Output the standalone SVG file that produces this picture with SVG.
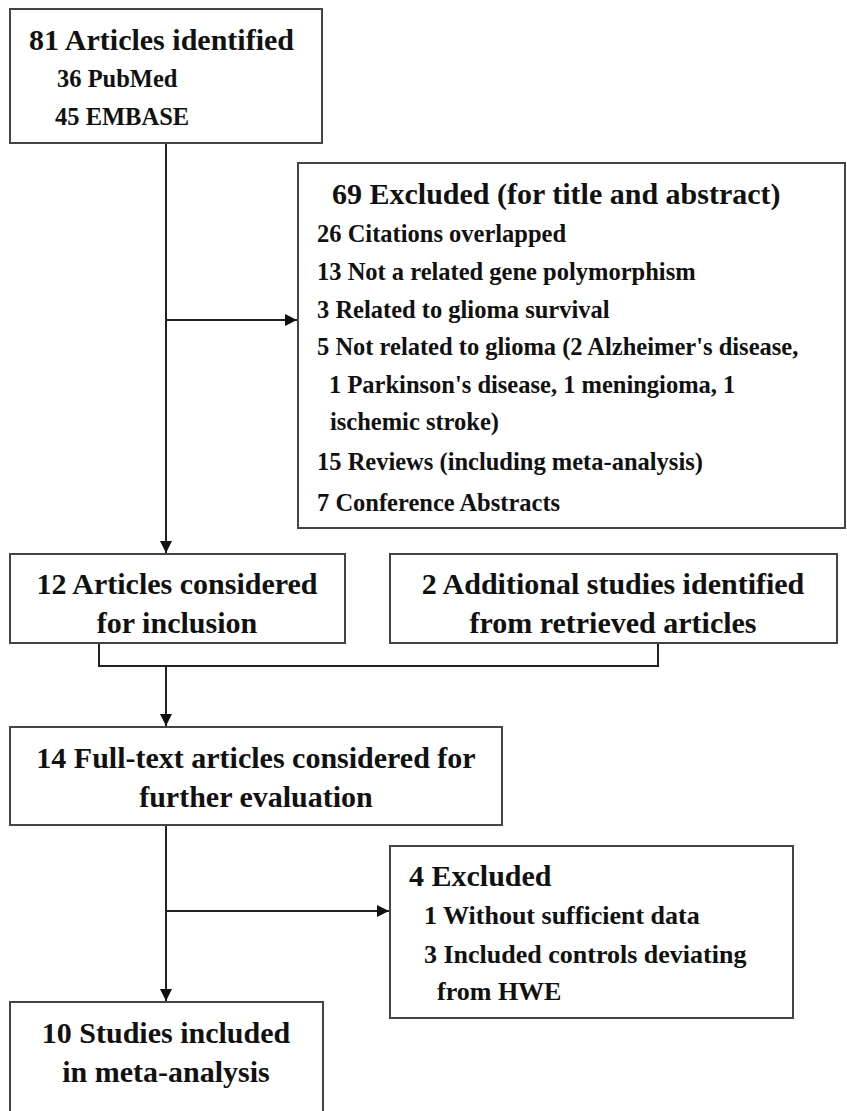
<svg xmlns="http://www.w3.org/2000/svg" width="847" height="1111" viewBox="0 0 847 1111">
<defs>
<style>
.box{fill:#fff;stroke:#444;stroke-width:2}
.ln{fill:none;stroke:#222;stroke-width:2}
text{font-family:"Liberation Serif","Times New Roman",serif;font-weight:bold;fill:#111}
.t1{font-size:30px}
.t2{font-size:24.5px}
.t3{font-size:30px}
.t4{font-size:26px}
.c{text-anchor:middle}
</style>
<marker id="ah" viewBox="0 0 10 10" refX="10" refY="5" markerWidth="6" markerHeight="6" markerUnits="strokeWidth" orient="auto">
<path d="M0,0 L10,5 L0,10 z" fill="#111"/>
</marker>
</defs>
<rect width="847" height="1111" fill="#fff"/>
<g id="connectors">
<line class="ln" x1="166" y1="143" x2="166" y2="553" marker-end="url(#ah)"/>
<line class="ln" x1="166" y1="320" x2="297" y2="320" marker-end="url(#ah)"/>
<polyline class="ln" points="99,643 99,666 658,666 658,643"/>
<line class="ln" x1="166" y1="666" x2="166" y2="726" marker-end="url(#ah)"/>
<line class="ln" x1="166" y1="825" x2="166" y2="1001" marker-end="url(#ah)"/>
<line class="ln" x1="166" y1="911" x2="389" y2="911" marker-end="url(#ah)"/>
</g>
<g id="n81">
<rect class="box" x="10" y="9" width="312" height="134"/>
<text class="t1" x="29" y="50">81 Articles identified</text>
<text class="t2" x="57" y="87">36 PubMed</text>
<text class="t2" x="55" y="125">45 EMBASE</text>
</g>
<g id="n69">
<rect class="box" x="298" y="163" width="547" height="365"/>
<text class="t1" x="332" y="204">69 Excluded (for title and abstract)</text>
<text class="t2" x="317" y="242">26 Citations overlapped</text>
<text class="t2" x="317" y="280">13 Not a related gene polymorphism</text>
<text class="t2" x="317" y="318">3 Related to glioma survival</text>
<text class="t2" x="317" y="355">5 Not related to glioma (2 Alzheimer's disease,</text>
<text class="t2" x="329" y="393">1 Parkinson's disease, 1 meningioma, 1</text>
<text class="t2" x="330" y="430">ischemic stroke)</text>
<text class="t2" x="317" y="470">15 Reviews (including meta-analysis)</text>
<text class="t2" x="317" y="511">7 Conference Abstracts</text>
</g>
<g id="n12">
<rect class="box" x="10" y="554" width="335" height="89"/>
<text class="t3 c" x="177" y="594">12 Articles considered</text>
<text class="t3 c" x="177" y="633">for inclusion</text>
</g>
<g id="n2">
<rect class="box" x="390" y="554" width="447" height="89"/>
<text class="t3 c" x="613" y="594">2 Additional studies identified</text>
<text class="t3 c" x="613" y="633">from retrieved articles</text>
</g>
<g id="n14">
<rect class="box" x="10" y="727" width="492" height="98"/>
<text class="t3 c" x="256" y="768">14 Full-text articles considered for</text>
<text class="t3 c" x="256" y="807">further evaluation</text>
</g>
<g id="n4">
<rect class="box" x="390" y="846" width="403" height="172"/>
<text class="t3" x="409" y="886">4 Excluded</text>
<text class="t4" x="424" y="924">1 Without sufficient data</text>
<text class="t4" x="424" y="963">3 Included controls deviating</text>
<text class="t4" x="437" y="1000">from HWE</text>
</g>
<g id="n10">
<rect class="box" x="10" y="1002" width="313" height="120"/>
<text class="t3 c" x="166" y="1043">10 Studies included</text>
<text class="t3 c" x="166" y="1082">in meta-analysis</text>
</g>
</svg>
